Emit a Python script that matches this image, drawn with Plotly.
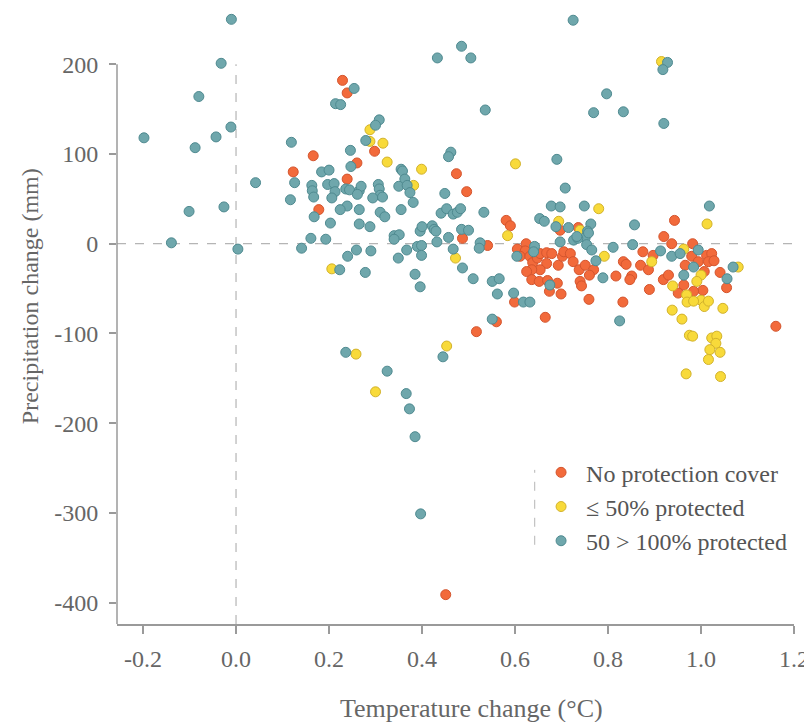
import plotly.graph_objects as go

# ---- data ----
no_x = [0.229, 0.239, 0.166, 0.123, 0.298, 0.260, 0.239, 0.178, 0.474, 0.496,
        0.943, 0.697, 0.736, 0.581, 0.590, 0.487, 0.541, 0.599, 0.560, 0.517,
        0.665, 0.759, 0.832, 0.889, 1.161, 0.699, 0.674, 0.817,
        0.605, 0.624, 0.622, 0.611, 0.632, 0.638, 0.648, 0.654, 0.668, 0.679,
        0.668, 0.654, 0.636, 0.625, 0.636, 0.652, 0.670, 0.691, 0.693, 0.702,
        0.705, 0.719, 0.725, 0.738, 0.751, 0.769, 0.760, 0.740, 0.743,
        0.920, 0.937, 0.982, 0.875, 0.833, 0.839, 0.870, 0.887, 0.851, 0.847,
        0.919, 0.930, 0.966, 0.980, 0.994, 1.012, 1.023, 1.016, 1.028, 1.041,
        1.055, 1.004, 0.984, 0.963, 0.951, 0.897, 1.007, 0.451]
no_y = [182, 168, 98, 80, 103, 90, 72, 38, 78, 58,
        26, 15, 18, 26, 20, 6, -2, -65, -87, -98,
        -82, -62, -65, -51, -92, -56, -53, -36,
        -6, 0, -8, -14, -14, -21, -16, -11, -10, -11,
        -22, -29, -29, -31, -40, -42, -41, -44, -24, -14,
        -9, -11, -20, -29, -24, -29, -35, -42, -47,
        8, 0, 0, -9, -20, -23, -24, -29, -36, -40,
        -40, -35, -24, -14, -20, -13, -11, -20, -19, -32,
        -49, -52, -53, -46, -55, -13, -31, -391]

low_x = [0.288, 0.288, 0.316, 0.325, 0.382, 0.399, 0.206, 0.915, 0.601, 0.780,
         1.013, 0.694, 0.740, 0.584, 0.472, 0.792, 0.453, 0.258, 0.300, 0.894,
         0.963, 1.080, 1.000, 0.991, 0.939, 0.969, 0.970, 1.000, 1.007, 1.016,
         0.984, 1.047, 0.938, 0.959, 0.975, 0.982, 1.023, 1.034, 1.032, 1.019,
         1.041, 1.016, 0.968, 1.042]
low_y = [127, 114, 112, 91, 65, 83, -28, 203, 89, 39,
         22, 25, 15, 9, -16, -14, -114, -123, -165, -20,
         -6, -26, -35, -42, -47, -57, -65, -63, -70, -64,
         -64, -72, -74, -84, -102, -103, -105, -103, -111, -118,
         -121, -129, -145, -148]

high_x = [-0.010, -0.032, -0.080, -0.198, -0.088, -0.043, -0.011, -0.101, -0.026, -0.139,
          0.004, 0.042, 0.119, 0.117, 0.126, 0.254, 0.214, 0.225, 0.308, 0.300,
          0.279, 0.246, 0.247, 0.184, 0.200, 0.163, 0.164, 0.167, 0.197, 0.211,
          0.213, 0.206, 0.236, 0.244, 0.265, 0.269, 0.261, 0.239, 0.224, 0.265,
          0.306, 0.308, 0.310, 0.294, 0.315, 0.310, 0.320, 0.168, 0.203, 0.265,
          0.288, 0.161, 0.193, 0.141, 0.240, 0.259, 0.290, 0.223, 0.278, 0.355,
          0.358, 0.363, 0.350, 0.368, 0.374, 0.381, 0.355, 0.340, 0.351, 0.340,
          0.367, 0.349, 0.385, 0.396,
          0.725, 0.485, 0.433, 0.505, 0.536, 0.928, 0.918, 0.797, 0.769, 0.833,
          0.920, 0.462, 0.457, 0.690, 0.708, 0.449, 0.441, 0.453, 0.467, 0.476,
          0.483, 0.533, 0.678, 0.697, 0.749, 1.018, 0.857, 0.653, 0.663, 0.688,
          0.715, 0.763, 0.756, 0.751, 0.697, 0.726, 0.735, 0.396, 0.400, 0.422,
          0.426, 0.430, 0.432, 0.457, 0.485, 0.500, 0.390, 0.399, 0.399, 0.467,
          0.525, 0.523, 0.487, 0.510, 0.551, 0.566, 0.562, 0.597, 0.618, 0.632,
          0.551, 0.825,
          0.604, 0.642, 0.640, 0.733, 0.758, 0.754, 0.765, 0.774, 0.811, 0.789,
          0.675, 0.853, 0.913, 0.937, 0.955, 0.994, 0.984, 0.963, 1.069, 1.056,
          0.236, 0.325, 0.366, 0.373, 0.385, 0.397, 0.445]
high_y = [250, 201, 164, 118, 107, 119, 130, 36, 41, 1,
          -6, 68, 113, 49, 68, 173, 156, 155, 138, 132,
          115, 104, 86, 80, 82, 65, 59, 52, 66, 67,
          58, 51, 61, 60, 59, 64, 55, 42, 38, 38,
          66, 61, 54, 51, 52, 35, 30, 30, 23, 22,
          19, 6, 5, -5, -14, -7, -8, -29, -32, 83,
          81, 72, 64, 65, 57, 46, 38, 9, 10, 5,
          -7, -16, -34, -48,
          249, 220, 207, 207, 149, 202, 194, 167, 146, 147,
          134, 102, 97, 94, 62, 56, 34, 39, 33, 35,
          39, 35, 42, 41, 42, 42, 21, 28, 25, 19,
          18, 22, 14, 7, 2, 4, 6, 14, 19, 20,
          16, 14, 2, 7, 16, 15, -3, -2, -13, -6,
          1, -5, -27, -39, -42, -39, -56, -55, -65, -65,
          -84, -86,
          -14, -3, -9, 8, 12, -1, -7, -19, -4, -38,
          -46, -1, -8, -14, -11, -7, -26, -35, -26, -39,
          -121, -142, -167, -184, -215, -301, -126]

series_names = ["No protection cover", "\u2264 50% protected", "50 > 100% protected"]
x_tickvals = [-0.2, 0.0, 0.2, 0.4, 0.6, 0.8, 1.0, 1.2]
x_ticktext = ["-0.2", "0.0", "0.2", "0.4", "0.6", "0.8", "1.0", "1.2"]
y_tickvals = [-400, -300, -200, -100, 0, 100, 200]
y_ticktext = ["-400", "-300", "-200", "-100", "0", "100", "200"]

# ---- styling ----
FONT = "Liberation Serif"
fills = ["#F26A3B", "#F8DA3A", "#6FA7AC"]
edges = ["#D4552E", "#D2B22C", "#4F8A90"]
AXIS = "#9a9a9a"
XR = [-0.256, 1.2]
YR = [-423.7, 260.4]

fig = go.Figure()
for name, xs, ys, fc, ec in zip(series_names, [no_x, low_x, high_x], [no_y, low_y, high_y], fills, edges):
    fig.add_trace(go.Scatter(
        x=xs, y=ys, mode="markers", name=name,
        marker=dict(size=10, color=fc, line=dict(color=ec, width=1)),
    ))

# page body has an 8px default margin, so the figure is 8px smaller and margins shifted
fig.update_layout(
    width=804, height=714,
    margin=dict(l=109, r=18, t=2, b=98),
    paper_bgcolor="white", plot_bgcolor="white",
    font=dict(family=FONT, color="#666666"),
    showlegend=True,
    legend=dict(
        x=0.619, y=0.283, xanchor="left", yanchor="top",
        font=dict(family=FONT, size=24, color="#555555"),
        bgcolor="rgba(0,0,0,0)", borderwidth=0, tracegroupgap=0,
        itemwidth=40,
    ),
    xaxis=dict(
        range=XR, tickvals=x_tickvals, ticktext=x_ticktext,
        showgrid=False, zeroline=False, showline=True, linecolor=AXIS, linewidth=1.5,
        ticks="outside", ticklen=8, tickwidth=1.5, tickcolor=AXIS,
        tickfont=dict(family=FONT, size=24, color="#666666"),
        ticklabelstandoff=4,
    ),
    yaxis=dict(
        range=YR, tickvals=y_tickvals, ticktext=y_ticktext,
        showgrid=False, zeroline=False, showline=False,
        ticks="outside", ticklen=7, tickwidth=1.5, tickcolor=AXIS,
        tickfont=dict(family=FONT, size=24, color="#666666"),
        ticklabelstandoff=6,
    ),
    shapes=[
        dict(type="line", xref="paper", yref="y", x0=0, x1=0, y0=YR[0], y1=200,
             line=dict(color=AXIS, width=1.5)),
        dict(type="line", xref="x", yref="y", x0=0, x1=0, y0=YR[0], y1=200,
             line=dict(color="#b5b5b5", width=1.2, dash="dash"), layer="below"),
        dict(type="line", xref="x", yref="y", x0=XR[0], x1=1.2, y0=0, y1=0,
             line=dict(color="#b5b5b5", width=1.2, dash="dash"), layer="below"),
        dict(type="line", xref="paper", yref="paper", x0=0.617, x1=0.617, y0=0.129, y1=0.251,
             line=dict(color="#b5b5b5", width=1, dash="dash")),
    ],
    annotations=[
        dict(text="Temperature change (\u00b0C)", xref="paper", yref="paper",
             x=0.523, y=-0.138, xanchor="center", yanchor="middle", showarrow=False,
             font=dict(family=FONT, size=26, color="#666666")),
        dict(text="Precipitation change (mm)", xref="paper", yref="paper",
             x=-0.1285, y=0.534, xanchor="center", yanchor="middle", showarrow=False,
             textangle=-90, font=dict(family=FONT, size=24, color="#666666")),
    ],
)

fig.write_html("out.html", config={"displayModeBar": False})
